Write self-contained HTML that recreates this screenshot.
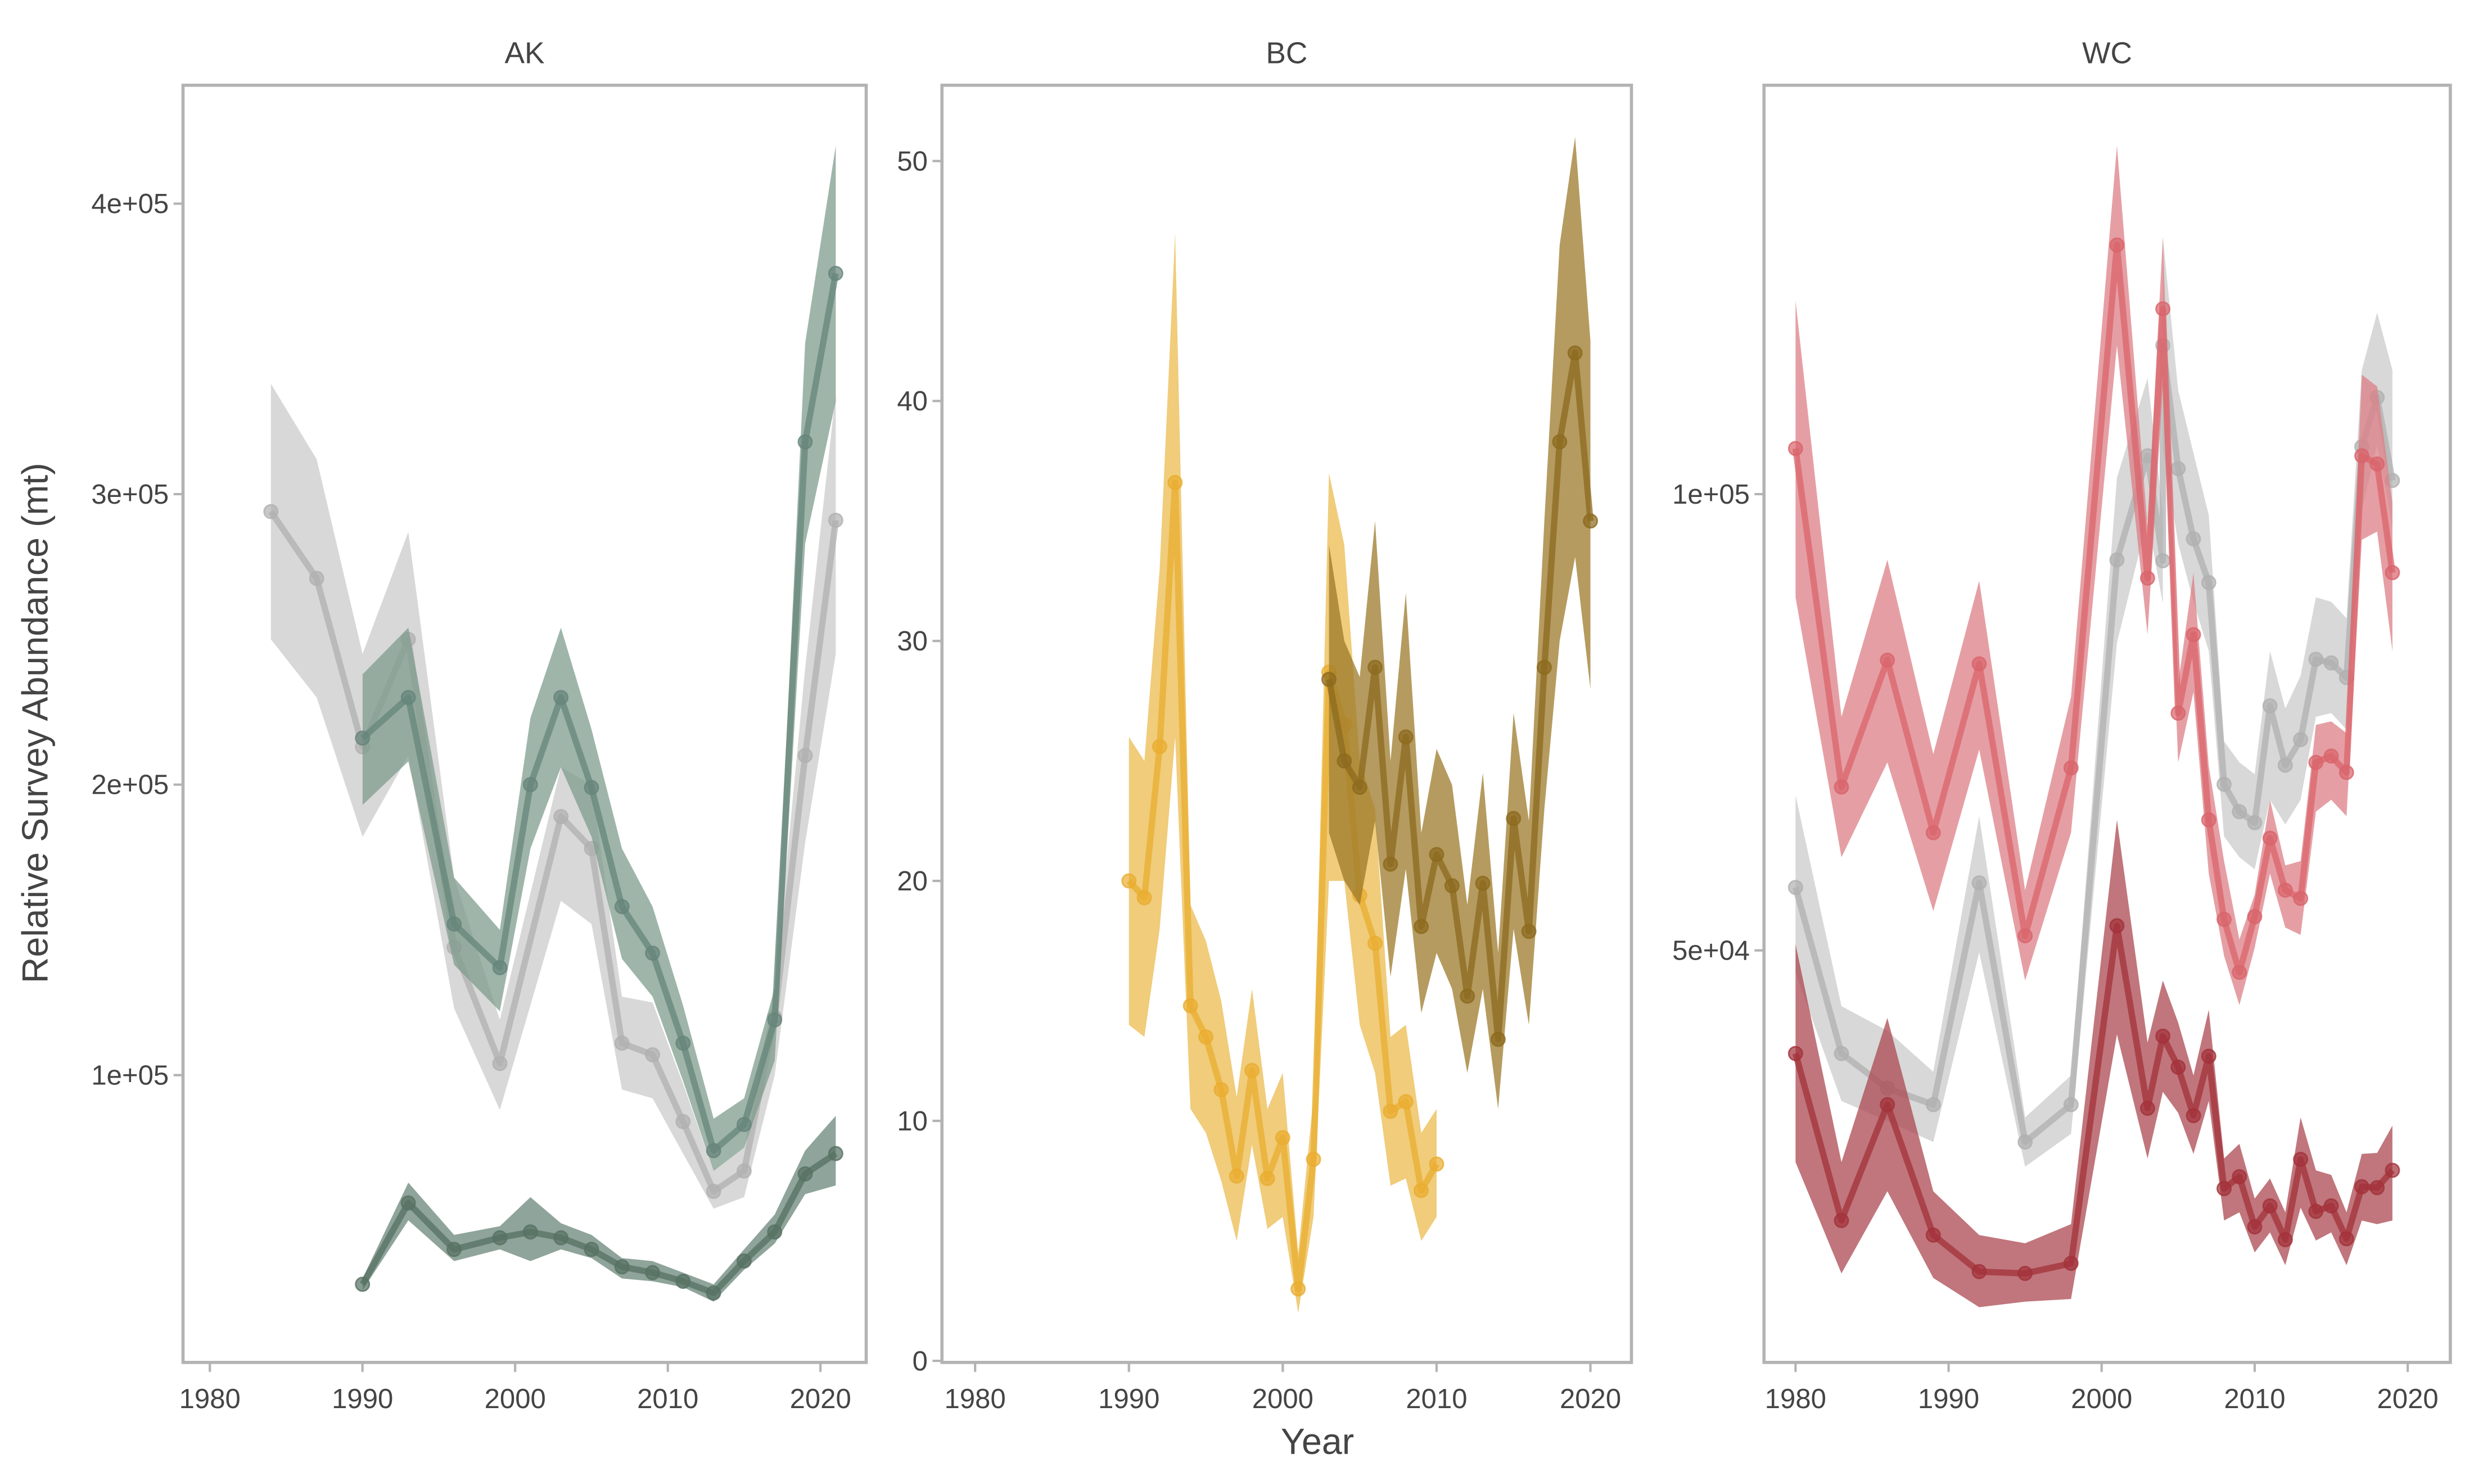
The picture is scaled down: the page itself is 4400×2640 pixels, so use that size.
<!DOCTYPE html>
<html><head><meta charset="utf-8">
<style>
html,body{margin:0;padding:0;background:#fff;}
svg{display:block;font-family:"Liberation Sans",sans-serif;}
</style></head>
<body>
<svg id="chart" width="4400" height="2640" viewBox="0 0 1568 940" preserveAspectRatio="none" xmlns="http://www.w3.org/2000/svg">
<text x="24" y="458" transform="rotate(-90 24 458)" text-anchor="middle" dominant-baseline="middle" font-size="23" fill="#444">Relative Survey Abundance (mt)</text>
<text x="835" y="921" text-anchor="middle" font-size="23" fill="#444">Year</text>
</svg>
<script>
// ---- AK data ----
const akGreyYears=[1984,1987,1990,1993,1996,1999,2003,2005,2007,2009,2011,2013,2015,2017,2019,2021];
const akGreyVals=[294,271,213,250,144,104,189,178,111,107,84,60,67,120,210,291];
const akGreyLo=[250,230,182,210,123,88,160,152,95,92,73,54,58,100,180,245];
const akGreyHi=[338,312,245,287,168,119,206,200,127,125,97,67,75,130,240,335];
const akTopYears=[1990,1993,1996,1999,2001,2003,2005,2007,2009,2011,2013,2015,2017,2019,2021];
const akTopVals=[216,230,152,137,200,230,199,158,142,111,74,83,119,318,376];
const akTopLo=[193,208,138,122,178,206,182,140,127,98,67,75,105,283,332];
const akTopHi=[238,254,168,150,223,254,219,178,158,124,85,92,130,352,420];
const akBotVals=[28,56,40,44,46,44,40,34,32,29,25,36,46,66,73];
const akBotLo=[26,50,36,40,36,40,37,30,29,27,22,33,42,59,62];
const akBotHi=[30,63,45,48,58,49,45,37,36,32,28,40,52,74,86];
// ---- BC data ----
const bcYellowYears=[1990,1991,1992,1993,1994,1995,1996,1997,1998,1999,2000,2001,2002,2003,2004,2005,2006,2007,2008,2009,2010];
const bcYellowVals=[20,19.3,25.6,36.6,14.8,13.5,11.3,7.7,12.1,7.6,9.3,3.0,8.4,28.7,26.5,19.4,17.4,10.4,10.8,7.1,8.2];
const bcYellowLo=[14,13.5,18,26,10.5,9.5,7.5,5,9,5.5,6,2,6,20,20,14,12,7.3,7.6,5,6];
const bcYellowHi=[26,25,33,47,19,17.5,15,11,15.5,10.5,12,4.5,11,37,34,25,23,13.5,14,9.5,10.5];
const bcBrownYears=[2003,2004,2005,2006,2007,2008,2009,2010,2011,2012,2013,2014,2015,2016,2017,2018,2019,2020];
const bcBrownVals=[28.4,25,23.9,28.9,20.7,26,18.1,21.1,19.8,15.2,19.9,13.4,22.6,17.9,28.9,38.3,42,35];
const bcBrownLo=[22,20,19,22.5,16,20.5,14.5,17,15.5,12,15.5,10.5,18,14,23,30,33.5,28];
const bcBrownHi=[34,30,28.5,35,25,32,22,25.5,24,19,24.5,17,27,22.5,35,46.5,51,42.5];
// ---- WC data (thousands) ----
const wcRedYears=[1980,1983,1986,1989,1992,1995,1998,2001,2003,2004,2005,2006,2007,2008,2009,2010,2011,2012,2013,2014,2015,2016,2017,2018,2019];
const wcRedVals=[105,67.9,81.8,62.9,81.4,51.6,70,127.3,90.8,120.3,76,84.6,64.3,53.4,47.6,53.7,62.3,56.6,55.7,70.6,71.3,69.5,104.2,103.3,91.4];
const wcRedLo=[88.7,60.2,70.6,54.3,72,46.7,62.9,116.3,84.6,111.8,70.6,78.3,58.4,49.4,44,50.3,58.4,52.5,51.7,65.2,66.5,64.7,95,95.9,82.8];
const wcRedHi=[121.2,75.6,92.8,71.5,90.5,56.6,77.8,138.2,96.4,128.2,79.2,91.4,70.2,59.8,51.2,56.1,66.5,59.3,59.8,74.7,75.1,73.8,113.1,111.8,99.1];
const wcGreyYears=[1980,1983,1986,1989,1992,1995,1998,2001,2003,2004,2004,2005,2006,2007,2008,2009,2010,2011,2012,2013,2014,2015,2016,2017,2018,2019];
const wcGreyVals=[56.9,38.7,34.9,33.1,57.4,29,33.1,92.8,104.2,92.7,116.3,102.8,95.1,90.3,68.2,65.2,64,76.8,70.3,73.1,81.9,81.5,79.9,105.2,110.6,101.5];
const wcGreyLo=[47.6,33.5,31.3,29,49.8,26.3,29.9,83.7,97.3,88,105,94.6,88.2,82.8,62.5,60.2,58.9,66.5,63.8,66.5,75.6,76,74.2,98.2,105.4,96.4];
const wcGreyHi=[67,43.9,41.2,36.7,64.7,31.7,36.3,101.8,112.7,98,128.2,111.4,104.5,97.7,72.9,70.6,69.3,82.8,76.5,80.1,88.7,88.2,86.4,113.6,119.9,113.6];
const wcDarkYears=[1980,1983,1986,1989,1992,1995,1998,2001,2003,2004,2005,2006,2007,2008,2009,2010,2011,2012,2013,2014,2015,2016,2017,2018,2019];
const wcDarkVals=[38.7,20.4,33.1,18.8,14.8,14.6,15.7,52.7,32.7,40.6,37.2,31.9,38.4,23.9,25.2,19.7,22,18.3,27.1,21.4,22,18.4,24.1,24,25.9];
const wcDarkLo=[26.8,14.6,23.6,14.1,10.9,11.5,11.8,40.8,27.2,34.5,32.2,27.7,33.5,20.4,21.3,16.9,19.1,15.5,21.8,18.2,19.1,15.5,20.4,20,20.4];
const wcDarkHi=[50.7,26.8,42.6,23.6,18.8,17.9,20,64.3,39.9,46.7,42.1,36.3,43.5,27.2,28.8,22.8,25,21.3,31.7,25.9,25.4,21.3,27.7,27.8,30.8];
const xTicks=[1980,1990,2000,2010,2020];

const NS='http://www.w3.org/2000/svg';
const svg=document.getElementById('chart');
function mk(tag,attrs,parent){const e=document.createElementNS(NS,tag);for(const k in attrs)e.setAttribute(k,attrs[k]);(parent||svg).appendChild(e);return e;}

function panel(cfg){
  const g=mk('g',{});
  
  
  const X=y=>cfg.x0+(y-1980)*cfg.xs, Y=v=>cfg.y0-v*cfg.ys;
  const t=mk('text',{x:(cfg.l+cfg.r)/2,y:40,'text-anchor':'middle','font-size':19,fill:'#444'},g);
  t.textContent=cfg.name;
  
  
  cfg.series.forEach(s=>{
    let d='';
    s.years.forEach((yr,i)=>{d+=(i?'L':'M')+X(yr).toFixed(1)+','+Y(s.hi[i]).toFixed(1);});
    for(let i=s.years.length-1;i>=0;i--)d+='L'+X(s.years[i]).toFixed(1)+','+Y(s.lo[i]).toFixed(1);
    const band=mk('path',{d:d+'Z',fill:s.band,'fill-opacity':s.bo||0.75},g);
    
    
    const pts=s.years.map((yr,i)=>X(yr).toFixed(1)+','+Y(s.vals[i]).toFixed(1)).join(' ');
    const ln=mk('polyline',{points:pts,fill:'none',stroke:s.line,'stroke-width':4,'stroke-opacity':0.75,'stroke-linejoin':'round'},g);
    
    
    s.years.forEach((yr,i)=>{
      const c=mk('circle',{cx:X(yr),cy:Y(s.vals[i]),r:4.3,fill:s.line,'fill-opacity':0.7,stroke:s.line,'stroke-width':1,'stroke-opacity':0.8},g);
      
      
    });
  });
  const fr=mk('rect',{x:cfg.l,y:54,width:cfg.r-cfg.l,height:863-54,fill:'none',stroke:'#b3b3b3','stroke-width':2},g);
  
  
  xTicks.forEach(yr=>{
    mk('line',{x1:X(yr),x2:X(yr),y1:863,y2:869,stroke:'#b3b3b3','stroke-width':1.5},g);
    const tl=mk('text',{x:X(yr),y:892,'text-anchor':'middle','font-size':17.5,fill:'#444'},g);
    tl.textContent=yr;
    
    
  });
  cfg.yTicks.forEach((v,i)=>{
    mk('line',{x1:cfg.l-6,x2:cfg.l,y1:Y(v),y2:Y(v),stroke:'#b3b3b3','stroke-width':1.5},g);
    const tl=mk('text',{x:cfg.l-9,y:Y(v)+6,'text-anchor':'end','font-size':17.5,fill:'#444'},g);
    tl.textContent=cfg.yLabels[i];
    
    
  });
}
panel({name:'AK',l:116,r:549,x0:133,xs:9.675,y0:865,ys:1.84,
  yTicks:[100,200,300,400],yLabels:['1e+05','2e+05','3e+05','4e+05'],
  series:[
   {id:'ak-survey-grey',years:akGreyYears,vals:akGreyVals,lo:akGreyLo,hi:akGreyHi,band:'#cbcbcb',line:'#b0b0b0'},
   {id:'ak-survey-top',years:akTopYears,vals:akTopVals,lo:akTopLo,hi:akTopHi,band:'#7f9c8e',line:'#66857a'},
   {id:'ak-survey-bottom',years:akTopYears,vals:akBotVals,lo:akBotLo,hi:akBotHi,band:'#6a8678',line:'#567063'}]});
panel({name:'BC',l:597,r:1034,x0:618,xs:9.75,y0:862,ys:15.2,
  yTicks:[0,10,20,30,40,50],yLabels:['0','10','20','30','40','50'],
  series:[
   {id:'bc-survey-yellow',years:bcYellowYears,vals:bcYellowVals,lo:bcYellowLo,hi:bcYellowHi,band:'#ebbb4f',line:'#e9ad2f'},
   {id:'bc-survey-brown',years:bcBrownYears,vals:bcBrownVals,lo:bcBrownLo,hi:bcBrownHi,band:'#9c7a2a',line:'#8c6a1e'}]});
panel({name:'WC',l:1118,r:1553,x0:1138,xs:9.7,y0:891,ys:5.78,
  yTicks:[50,100],yLabels:['5e+04','1e+05'],
  series:[
   {id:'wc-survey-grey',years:wcGreyYears,vals:wcGreyVals,lo:wcGreyLo,hi:wcGreyHi,band:'#cbcbcb',line:'#b0b0b0'},
   {id:'wc-survey-red',years:wcRedYears,vals:wcRedVals,lo:wcRedLo,hi:wcRedHi,band:'#dc7f86',line:'#d9646b'},
   {id:'wc-survey-darkred',years:wcDarkYears,vals:wcDarkVals,lo:wcDarkLo,hi:wcDarkHi,band:'#ab4850',line:'#a3323a'}]});
</script>
</body></html>
